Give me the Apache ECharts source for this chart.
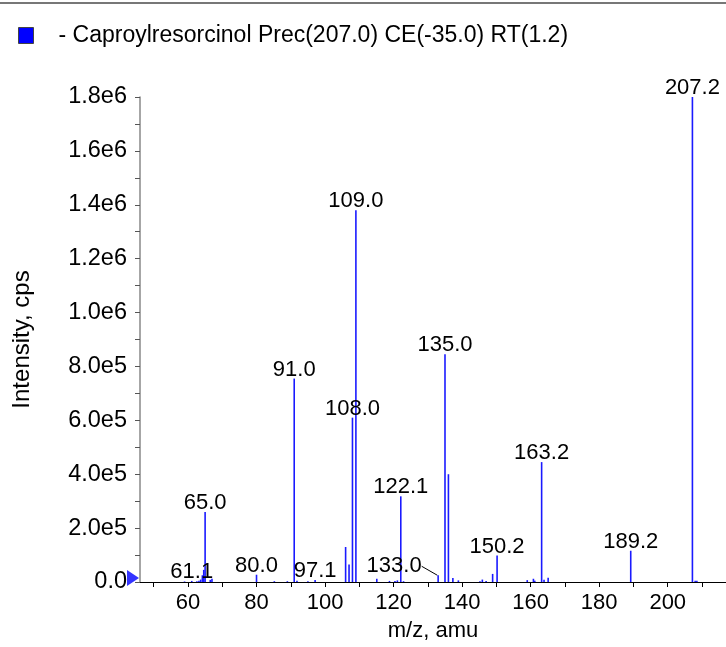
<!DOCTYPE html>
<html>
<head>
<meta charset="utf-8">
<script src="https://cdn.jsdelivr.net/npm/echarts@6/dist/echarts.min.js"></script>
<style>
html,body{margin:0;padding:0;background:#fff;}
#chart{width:726px;height:647px;}
</style>
</head>
<body>
<div id="chart"></div>
<script>
// ---- data ----
var seriesName = '- Caproylresorcinol Prec(207.0) CE(-35.0) RT(1.2)';
var peakMz = [59.0, 61.1, 62.6, 63.2, 63.7, 64.2, 64.6, 65.0, 66.5, 67.0,
  80.0, 85.2, 89.0, 91.0, 91.8, 95.0, 97.1,
  106.0, 107.0, 108.0, 109.0, 115.1, 118.8, 120.4, 121.1, 122.1, 122.9,
  133.0, 135.0, 136.0, 137.3, 138.9,
  145.2, 145.9, 147.0, 148.9, 150.2,
  159.0, 160.8, 161.2, 163.2, 163.9, 165.1,
  189.2, 207.2, 208.0, 208.5];
var peakIntensity = [2000, 4000, 3000, 5000, 9000, 25000, 45000, 260000, 8000, 12000,
  27000, 3000, 3000, 755000, 5000, 3000, 7000,
  130000, 65000, 610000, 1380000, 12000, 4000, 4000, 6000, 318000, 3000,
  25000, 845000, 400000, 15000, 6000,
  3000, 9000, 4000, 30000, 98000,
  7000, 12000, 5000, 445000, 8000, 16000,
  116000, 1800000, 5000, 5000];
var labeledMz = [61.1, 65.0, 80.0, 91.0, 97.1, 108.0, 109.0, 122.1, 133.0, 135.0, 150.2, 163.2, 189.2, 207.2];
var xTickValues = [50, 60, 70, 80, 90, 100, 110, 120, 130, 140, 150, 160, 170, 180, 190, 200, 210];
var xLabelValues = [60, 80, 100, 120, 140, 160, 180, 200];
var xMin = 46, xMax = 217;
var yMin = 0, yMax = 1800000, yInterval = 200000;
var xName = 'm/z, amu';
var yName = 'Intensity, cps';

// ---- build ----
var FONT = 'Liberation Sans, Arial, Helvetica, sans-serif';
var labelOffsets = { '133.0': { dx: -44, dy: 0, line: true } };
var barData = peakMz.map(function (m, i) {
  var item = { value: [m, peakIntensity[i]] };
  if (labeledMz.indexOf(m) >= 0) {
    var txt = m.toFixed(1);
    item.name = txt;
    item.label = { show: true };
    if (labelOffsets[txt] && labelOffsets[txt].line) {
      item.labelLine = { show: true, lineStyle: { color: '#000', width: 1 } };
    }
  }
  return item;
});

function yFmt(v) {
  if (v === 0) return '0.0';
  var e = Math.floor(Math.log10(v) + 1e-9);
  return (v / Math.pow(10, e)).toFixed(1) + 'e' + e;
}

var chart = echarts.init(document.getElementById('chart'), null, { renderer: 'canvas' });
chart.setOption({
  animation: false,
  backgroundColor: '#fff',
  textStyle: { fontFamily: FONT },
  legend: {
    left: 18, top: 24, padding: 0,
    itemWidth: 15, itemHeight: 16,
    icon: 'rect',
    data: [{ name: seriesName, itemStyle: { color: '#0000ff', borderColor: '#444', borderWidth: 1 } }],
    textStyle: { fontFamily: FONT, fontSize: 23, color: '#000', padding: [0, 0, 0, 20] },
    selectedMode: false
  },
  graphic: [{
    type: 'line', shape: { x1: 0, y1: 3, x2: 726, y2: 3 },
    style: { stroke: '#777', lineWidth: 2 }, silent: true
  }],
  grid: { left: 140, right: 0, top: 97, bottom: 63, containLabel: false },
  xAxis: {
    type: 'value', min: xMin, max: xMax,
    name: xName, nameLocation: 'middle', nameGap: 38,
    nameTextStyle: { fontFamily: FONT, fontSize: 22, color: '#000' },
    axisLine: { show: true, onZero: false, lineStyle: { color: '#000', width: 1 } },
    axisTick: { show: true, length: 5, customValues: xTickValues, lineStyle: { color: '#000' } },
    axisLabel: { customValues: xLabelValues, fontFamily: FONT, fontSize: 22, color: '#000', margin: 10 },
    splitLine: { show: false }
  },
  yAxis: {
    type: 'value', min: yMin, max: yMax, interval: yInterval,
    name: yName, nameLocation: 'middle', nameGap: 106, nameRotate: 90,
    nameTextStyle: { fontFamily: FONT, fontSize: 24, color: '#000' },
    axisLine: { show: true, lineStyle: { color: '#888', width: 1.5 } },
    axisTick: { show: true, length: 5, lineStyle: { color: '#555' } },
    minorTick: { show: true, splitNumber: 2, length: 5, lineStyle: { color: '#555' } },
    axisLabel: { formatter: yFmt, fontFamily: FONT, fontSize: 23.5, color: '#000', margin: 13 },
    splitLine: { show: false }
  },
  series: [
    {
      name: seriesName, type: 'bar', data: barData,
      barWidth: 1.6, itemStyle: { color: '#1a1aff' },
      label: {
        show: false, position: 'top', distance: -2,
        formatter: function (p) { return p.name; },
        fontFamily: FONT, fontSize: 22, color: '#000', opacity: 1
      },
      labelLayout: function (p) {
        var o = labelOffsets[p.text];
        if (o) return { dx: o.dx, dy: o.dy };
        return {};
      },
      silent: true
    },
    {
      name: 'origin', type: 'scatter', data: [[xMin, 0]],
      symbol: 'triangle', symbolSize: [16, 12], symbolRotate: -90,
      symbolOffset: [-7, -4], itemStyle: { color: '#0000ff' },
      clip: false, silent: true, z: 10
    }
  ]
});
</script>
</body>
</html>
